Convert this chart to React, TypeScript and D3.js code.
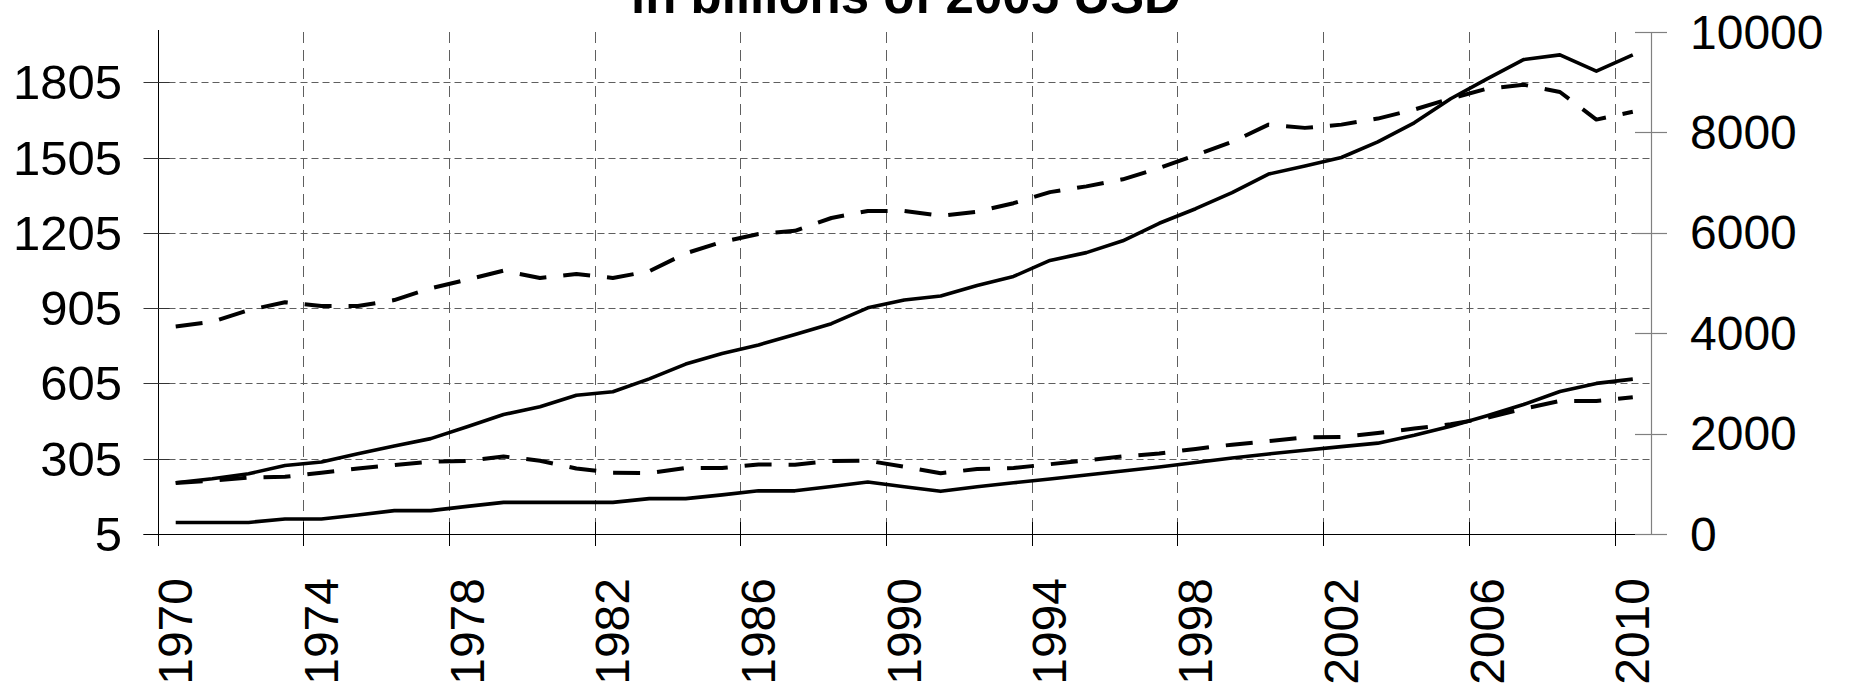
import React from "react";
import * as d3 from "d3";

// Categories (one per year)
const years = [
  1970, 1971, 1972, 1973, 1974, 1975, 1976, 1977, 1978, 1979,
  1980, 1981, 1982, 1983, 1984, 1985, 1986, 1987, 1988, 1989,
  1990, 1991, 1992, 1993, 1994, 1995, 1996, 1997, 1998, 1999,
  2000, 2001, 2002, 2003, 2004, 2005, 2006, 2007, 2008, 2009, 2010,
];
const labelYears = [1970, 1974, 1978, 1982, 1986, 1990, 1994, 1998, 2002, 2006, 2010];
const leftTicks = [5, 305, 605, 905, 1205, 1505, 1805];
const rightTicks = [0, 2000, 4000, 6000, 8000, 10000];
const titleText = "in billions of 2005 USD";

// Right-axis series
const upperSolid = [
  1020, 1100, 1200, 1365, 1435, 1600, 1755, 1900, 2135, 2380,
  2535, 2765, 2835, 3090, 3385, 3595, 3765, 3975, 4190, 4505,
  4660, 4740, 4950, 5130, 5450, 5605, 5840, 6190, 6480, 6800,
  7170, 7330, 7500, 7810, 8190, 8670, 9065, 9450, 9545, 9220, 9545,
];
const upperDashed = [
  4135, 4225, 4460, 4615, 4540, 4540, 4660, 4895, 5065, 5245,
  5100, 5180, 5100, 5235, 5590, 5820, 5975, 6040, 6295, 6435,
  6435, 6340, 6420, 6590, 6810, 6925, 7065, 7290, 7545, 7810,
  8155, 8090, 8155, 8275, 8455, 8675, 8870, 8950, 8805, 8255, 8410,
];
// Left-axis series
const lowerDashed = [
  208, 217, 230, 233, 249, 266, 280, 293, 296, 314,
  297, 266, 249, 248, 268, 268, 282, 281, 296, 297,
  273, 247, 264, 268, 283, 298, 314, 326, 344, 361,
  375, 390, 392, 407, 425, 442, 468, 504, 535, 535, 550,
];
const lowerSolid = [
  51, 51, 51, 65, 65, 81, 98, 98, 115, 131,
  131, 131, 131, 146, 146, 161, 177, 177, 194, 212,
  193, 175, 193, 209, 224, 240, 256, 272, 290, 308,
  324, 339, 353, 367, 398, 434, 476, 521, 573, 605, 622,
];

const W = 1850;
const H = 685;
const PL = 157.5;
const PR = 1651;
const PT = 32;
const PB = 534;

export default function App() {
  const x = d3.scaleBand<number>().domain(years).range([PL, PR]).paddingInner(0).paddingOuter(0);
  const cx = (yr: number) => (x(yr) as number) + x.bandwidth() / 2;
  const yL = d3.scaleLinear().domain([5, 2005]).range([PB, PT]);
  const yR = d3.scaleLinear().domain([0, 10000]).range([PB, PT]);

  const lineL = d3.line<number>().x((_, i) => cx(years[i])).y((d) => yL(d));
  const lineR = d3.line<number>().x((_, i) => cx(years[i])).y((d) => yR(d));

  const font = "'Liberation Sans', Arial, sans-serif";
  const gridColor = "#5f5f5f";

  return (
    <svg
      width={W}
      height={H}
      viewBox={`0 0 ${W} ${H}`}
      style={{ position: "absolute", left: 0, top: 0, background: "#fff" }}
      fontFamily={font}
    >
      <rect x={0} y={0} width={W} height={H} fill="#fff" />
      {/* Title (second line visible) */}
      <text x={906} y={13} textAnchor="middle" fontWeight="bold" fontSize={51} fill="#000">
        {titleText}
      </text>

      {/* Horizontal gridlines */}
      {leftTicks.filter((t) => t !== 5).map((t) => (
        <line key={"hg" + t} x1={PL} x2={PR} y1={Math.round(yL(t)) + 0.5} y2={Math.round(yL(t)) + 0.5}
          stroke={gridColor} strokeWidth={1} strokeDasharray="7,4" />
      ))}
      {/* Vertical gridlines */}
      {labelYears.filter((yr) => yr !== 1970).map((yr) => (
        <line key={"vg" + yr} x1={Math.round(x(yr) as number) + 0.5} x2={Math.round(x(yr) as number) + 0.5}
          y1={PT} y2={PB} stroke={gridColor} strokeWidth={1} strokeDasharray="11,7" />
      ))}

      {/* X axis ticks */}
      {labelYears.map((yr) => (
        <line key={"xt" + yr} x1={Math.round(x(yr) as number) + 0.5} x2={Math.round(x(yr) as number) + 0.5}
          y1={PB - 12} y2={PB + 12} stroke="#000" strokeWidth={1} />
      ))}

      {/* Left axis */}
      <line x1={Math.round(PL) + 0.5} x2={Math.round(PL) + 0.5} y1={PT - 2} y2={PB + 12} stroke="#000" strokeWidth={1} />
      {leftTicks.map((t) => (
        <g key={"lt" + t}>
          <line x1={PL - 14} x2={PL + 12} y1={Math.round(yL(t)) + 0.5} y2={Math.round(yL(t)) + 0.5} stroke="#333" strokeWidth={1} />
          <text x={122} y={yL(t)} textAnchor="end" dominantBaseline="central" fontSize={49} fill="#000">
            {t}
          </text>
        </g>
      ))}

      {/* Bottom axis */}
      <line x1={PL - 14} x2={PR + 16} y1={PB + 0.5} y2={PB + 0.5} stroke="#000" strokeWidth={1} />

      {/* Right axis */}
      <line x1={PR + 0.5} x2={PR + 0.5} y1={PT} y2={PB} stroke="#808080" strokeWidth={1.2} />
      {rightTicks.map((t) => (
        <g key={"rt" + t}>
          <line x1={PR - 16} x2={PR + 16} y1={Math.round(yR(t)) + 0.5} y2={Math.round(yR(t)) + 0.5} stroke="#808080" strokeWidth={1.2} />
          <text x={1690} y={yR(t)} textAnchor="start" dominantBaseline="central" fontSize={48} fill="#000">
            {t}
          </text>
        </g>
      ))}

      {/* X labels */}
      {labelYears.map((yr) => (
        <text key={"xl" + yr} transform={`translate(${cx(yr)},578) rotate(-90)`} textAnchor="end"
          dominantBaseline="central" fontSize={48} fill="#000">
          {yr}
        </text>
      ))}

      {/* Series */}
      <path d={lineR(upperSolid) as string} fill="none" stroke="#000" strokeWidth={3.6} strokeLinejoin="round" />
      <path d={lineR(upperDashed) as string} fill="none" stroke="#000" strokeWidth={4} strokeDasharray="27,17" strokeLinejoin="round" />
      <path d={lineL(lowerDashed) as string} fill="none" stroke="#000" strokeWidth={4} strokeDasharray="27,17" strokeLinejoin="round" />
      <path d={lineL(lowerSolid) as string} fill="none" stroke="#000" strokeWidth={3.6} strokeLinejoin="round" />
    </svg>
  );
}
